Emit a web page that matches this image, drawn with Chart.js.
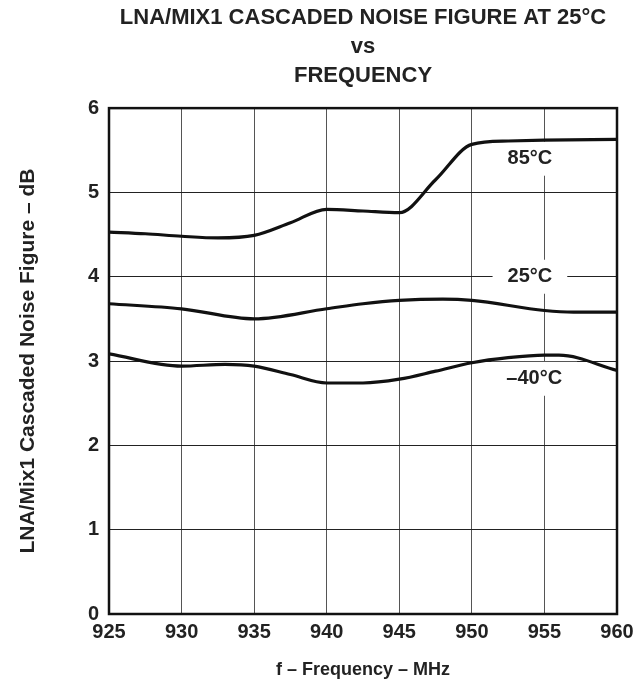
<!DOCTYPE html>
<html>
<head>
<meta charset="utf-8">
<script src="https://cdn.jsdelivr.net/npm/chart.js@4.4.1/dist/chart.umd.min.js"></script>
<style>
  html, body { margin: 0; padding: 0; background: #ffffff; }
  #wrap { width: 643px; height: 681px; }
</style>
</head>
<body>
<div id="wrap"><canvas id="nfChart" width="643" height="681"></canvas></div>
<script>
// ========== DATA ==========
const freq85 = [925, 927.5, 930, 932.5, 935, 937.5, 940, 942.5, 945, 947.5, 950, 952.5, 955, 960];
const nf85   = [4.53, 4.51, 4.48, 4.46, 4.49, 4.64, 4.80, 4.78, 4.76, 5.15, 5.57, 5.61, 5.62, 5.63];

const freq25 = [925, 930, 935, 940, 942.5, 945, 948, 950, 955, 957, 960];
const nf25   = [3.68, 3.62, 3.50, 3.62, 3.68, 3.72, 3.735, 3.72, 3.60, 3.58, 3.58];

const freqM40 = [925, 930, 933, 935, 937.5, 940, 942.5, 945, 947.5, 950, 952.5, 955, 956, 960];
const nfM40   = [3.085, 2.94, 2.96, 2.94, 2.84, 2.74, 2.74, 2.785, 2.88, 2.98, 3.04, 3.07, 3.07, 2.89];

const xTicks = [925, 930, 935, 940, 945, 950, 955, 960];
const yTicks = [0, 1, 2, 3, 4, 5, 6];

// curve labels, placed in data units
const curveLabels = ["85°C", "25°C", "–40°C"];
const labelX = [954, 954, 954.3];
const labelY = [5.40, 4.0, 2.79];

const titleLines = ["LNA/MIX1 CASCADED NOISE FIGURE AT 25°C", "vs", "FREQUENCY"];

const FONT = "'Liberation Sans', Arial, Helvetica, sans-serif";

function toPoints(xs, ys) {
    return xs.map((x, i) => ({ x: x, y: ys[i] }));
}

function series(label, xs, ys) {
    return {
        label: label,
        data: toPoints(xs, ys),
        borderColor: "#111111",
        borderWidth: 3.2,
        pointRadius: 0,
        fill: false,
        cubicInterpolationMode: "monotone"
    };
}

// ========== CURVE LABELS ==========
// white box first (under the curves, over the grid), text after
const curveLabelPlugin = {
    id: "curveLabels",
    beforeDatasetsDraw(chart) {
        const ctx = chart.ctx;
        ctx.save();
        ctx.font = "bold 20px " + FONT;
        curveLabels.forEach((txt, i) => {
            const px = chart.scales.x.getPixelForValue(labelX[i]);
            const py = chart.scales.y.getPixelForValue(labelY[i]);
            const w = ctx.measureText(txt).width;
            ctx.fillStyle = "#ffffff";
            ctx.fillRect(px - w / 2 - 15, py - 17, w + 30, 34);
        });
        ctx.restore();
    },
    afterDatasetsDraw(chart) {
        const ctx = chart.ctx;
        ctx.save();
        ctx.font = "bold 20px " + FONT;
        ctx.textAlign = "center";
        ctx.textBaseline = "middle";
        ctx.fillStyle = "#222222";
        curveLabels.forEach((txt, i) => {
            const px = chart.scales.x.getPixelForValue(labelX[i]);
            const py = chart.scales.y.getPixelForValue(labelY[i]);
            ctx.fillText(txt, px, py);
        });
        ctx.restore();
    }
};

// ========== BORDER ON TOP ==========
const frameBorder = {
    id: "frameBorder",
    afterDraw(chart) {
        const a = chart.chartArea;
        const ctx = chart.ctx;
        ctx.save();
        ctx.strokeStyle = "#111111";
        ctx.lineWidth = 2.5;
        ctx.strokeRect(a.left, a.top, a.right - a.left, a.bottom - a.top);
        ctx.restore();
    }
};

new Chart(document.getElementById("nfChart"), {
    type: "line",
    data: {
        datasets: [
            series("85°C", freq85, nf85),
            series("25°C", freq25, nf25),
            series("–40°C", freqM40, nfM40)
        ]
    },
    options: {
        responsive: false,
        animation: false,
        layout: { padding: { left: 0, right: 26, top: 3, bottom: 0 } },
        plugins: {
            legend: { display: false },
            tooltip: { enabled: false },
            title: {
                display: true,
                fullSize: false,
                text: titleLines,
                color: "#222222",
                font: { family: FONT, size: 22, weight: "bold", lineHeight: 1.32 },
                padding: { top: 0, bottom: 18 }
            }
        },
        scales: {
            x: {
                type: "linear",
                min: 925,
                max: 960,
                afterBuildTicks: (scale) => { scale.ticks = xTicks.map(v => ({ value: v })); },
                afterFit: (scale) => { scale.height = 67; },
                ticks: {
                    color: "#222222",
                    font: { family: FONT, size: 20, weight: "bold" },
                    padding: 6,
                    maxRotation: 0
                },
                grid: { color: "#555555", lineWidth: 1, drawTicks: false },
                border: { display: false },
                title: {
                    display: true,
                    text: "f – Frequency – MHz",
                    color: "#222222",
                    font: { family: FONT, size: 18, weight: "bold" },
                    padding: { top: 4, bottom: 0 }
                }
            },
            y: {
                min: 0,
                max: 6,
                afterBuildTicks: (scale) => { scale.ticks = yTicks.map(v => ({ value: v })); },
                afterFit: (scale) => { scale.width = 109; },
                ticks: {
                    color: "#222222",
                    font: { family: FONT, size: 20, weight: "bold" },
                    padding: 10
                },
                grid: { color: "#222222", lineWidth: 1, drawTicks: false },
                border: { display: false },
                title: {
                    display: true,
                    text: "LNA/Mix1 Cascaded Noise Figure – dB",
                    color: "#222222",
                    font: { family: FONT, size: 21, weight: "bold" },
                    padding: { top: 16, bottom: 30 }
                }
            }
        }
    },
    plugins: [curveLabelPlugin, frameBorder]
});
</script>
</body>
</html>
